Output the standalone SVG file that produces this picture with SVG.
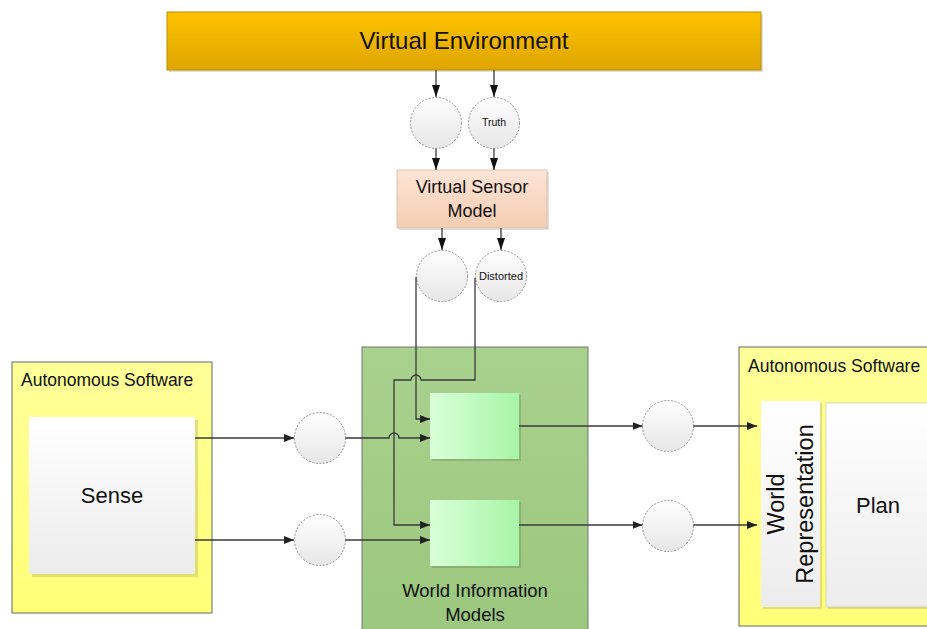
<svg xmlns="http://www.w3.org/2000/svg" width="927" height="629" viewBox="0 0 927 629">
<style>
text{font-family:"Liberation Sans",Arial,sans-serif;fill:#111}
.conn{fill:none;stroke:#3a3a3a;stroke-width:1.3}
.circ{fill:url(#gCirc);stroke:#888;stroke-width:0.9;stroke-dasharray:2 1.5}
.shadow{fill:#000;opacity:0.12}
</style>
<defs>
<linearGradient id="gVE" x1="0" y1="0" x2="0" y2="1"><stop offset="0" stop-color="#FFC300"/><stop offset="1" stop-color="#DDA600"/></linearGradient>
<linearGradient id="gVSM" x1="0" y1="0" x2="0" y2="1"><stop offset="0" stop-color="#FCE4D6"/><stop offset="1" stop-color="#F4CDB2"/></linearGradient>
<linearGradient id="gCirc" x1="0" y1="0" x2="0" y2="1"><stop offset="0" stop-color="#FFFFFF"/><stop offset="1" stop-color="#E6E6E6"/></linearGradient>
<linearGradient id="gGreen" x1="0" y1="0" x2="0" y2="1"><stop offset="0" stop-color="#A9D18E"/><stop offset="1" stop-color="#9CC77E"/></linearGradient>
<linearGradient id="gInner" x1="0" y1="0" x2="1" y2="0"><stop offset="0" stop-color="#D9FFD9"/><stop offset="1" stop-color="#A6F5A6"/></linearGradient>
<linearGradient id="gWhite" x1="0" y1="0" x2="0" y2="1"><stop offset="0" stop-color="#FFFFFF"/><stop offset="1" stop-color="#ECECEC"/></linearGradient>
<linearGradient id="gYellow" x1="0" y1="0" x2="0" y2="1"><stop offset="0" stop-color="#FFFF99"/><stop offset="1" stop-color="#FFFF77"/></linearGradient>
<marker id="arr" markerWidth="10" markerHeight="8" refX="10" refY="4" orient="auto" markerUnits="userSpaceOnUse"><path d="M0,0 L10,4 L0,8 Z" fill="#222"/></marker>
<marker id="arrD" markerWidth="8" markerHeight="12" refX="4" refY="12" orient="0" markerUnits="userSpaceOnUse"><path d="M0,0 L8,0 L4,12 Z" fill="#111"/></marker>
</defs>

<g id="virtual-environment">
<rect x="169" y="14" width="594" height="58" class="shadow"/>
<rect x="167" y="12" width="594" height="58" fill="url(#gVE)" stroke="#B8900A" stroke-width="1"/>
<text x="464" y="49" font-size="24" text-anchor="middle">Virtual Environment</text>
</g>

<g id="circle-ve-left"><circle cx="436" cy="123" r="25.5" class="circ"/></g>
<g id="circle-truth"><circle cx="494" cy="123" r="25.5" class="circ"/><text x="494" y="126" font-size="10.5" text-anchor="middle">Truth</text></g>

<g id="virtual-sensor-model">
<rect x="399" y="172" width="150" height="58" class="shadow"/>
<rect x="397" y="170" width="150" height="58" fill="url(#gVSM)" stroke="#D9B8A0" stroke-width="0.8"/>
<text x="472" y="193" font-size="18" text-anchor="middle">Virtual Sensor</text>
<text x="472" y="217" font-size="18" text-anchor="middle">Model</text>
</g>

<g id="circle-vsm-left"><circle cx="442" cy="276" r="25.5" class="circ"/></g>
<g id="circle-distorted"><circle cx="501" cy="276" r="25.5" class="circ"/><text x="501" y="280" font-size="11" text-anchor="middle">Distorted</text></g>

<g id="autonomous-software-left">
<rect x="12" y="362" width="200" height="251" fill="url(#gYellow)" stroke="#666" stroke-width="1"/>
<text x="21" y="386" font-size="17.5">Autonomous Software</text>
</g>
<g id="sense">
<rect x="32" y="420" width="166" height="157" class="shadow"/>
<rect x="29" y="417" width="166" height="157" fill="url(#gWhite)"/>
<text x="112" y="503" font-size="22" text-anchor="middle">Sense</text>
</g>

<g id="circle-left-1"><circle cx="320" cy="438" r="25.5" class="circ"/></g>
<g id="circle-left-2"><circle cx="320" cy="540" r="25.5" class="circ"/></g>

<g id="world-information-models">
<rect x="362" y="347" width="226" height="290" fill="url(#gGreen)" stroke="#777" stroke-width="1"/>
<text x="475" y="597" font-size="18.5" text-anchor="middle">World Information</text>
<text x="475" y="621" font-size="18.5" text-anchor="middle">Models</text>
</g>
<g id="model-upper">
<rect x="432" y="395" width="89" height="66" class="shadow"/>
<rect x="430" y="393" width="89" height="66" fill="url(#gInner)"/>
</g>
<g id="model-lower">
<rect x="432" y="502" width="89" height="66" class="shadow"/>
<rect x="430" y="500" width="89" height="66" fill="url(#gInner)"/>
</g>

<g id="circle-right-1"><circle cx="668" cy="426" r="25.5" class="circ"/></g>
<g id="circle-right-2"><circle cx="668" cy="526" r="25.5" class="circ"/></g>

<g id="autonomous-software-right">
<rect x="739" y="347" width="200" height="279" fill="url(#gYellow)" stroke="#666" stroke-width="1"/>
<text x="748" y="372" font-size="17.5">Autonomous Software</text>
</g>
<g id="world-representation">
<rect x="763" y="403" width="59" height="206" class="shadow"/>
<rect x="761" y="401" width="59" height="206" fill="url(#gWhite)"/>
<text transform="translate(784,504) rotate(-90)" font-size="23.5" text-anchor="middle">World</text>
<text transform="translate(813,504) rotate(-90)" font-size="23.5" text-anchor="middle">Representation</text>
</g>
<g id="plan">
<rect x="828" y="405" width="110" height="204" class="shadow"/>
<rect x="826" y="403" width="110" height="204" fill="url(#gWhite)" stroke="#bbb" stroke-width="0.6"/>
<text x="878" y="513" font-size="22" text-anchor="middle">Plan</text>
</g>

<g id="connectors">
<path class="conn" d="M436,70 V97" stroke="#111" marker-end="url(#arrD)"/>
<path class="conn" d="M494,70 V97" stroke="#111" marker-end="url(#arrD)"/>
<path class="conn" d="M436,148.5 V170" stroke="#111" marker-end="url(#arrD)"/>
<path class="conn" d="M494,148.5 V170" stroke="#111" marker-end="url(#arrD)"/>
<path class="conn" d="M442,228 V250" stroke="#111" marker-end="url(#arrD)"/>
<path class="conn" d="M501,228 V250" stroke="#111" marker-end="url(#arrD)"/>
<path class="conn" d="M416,277 V419 H430" marker-end="url(#arr)"/>
<path class="conn" d="M475,278 V380 H421 A5,5 0 0 0 411,380 H394 V525 H430" marker-end="url(#arr)"/>
<path class="conn" d="M195,438 H294" stroke="#111" marker-end="url(#arr)"/>
<path class="conn" d="M195,540 H294" stroke="#111" marker-end="url(#arr)"/>
<path class="conn" d="M345.5,438 H389 A5,5 0 0 1 399,438 H430" marker-end="url(#arr)"/>
<path class="conn" d="M345.5,540 H430" marker-end="url(#arr)"/>
<path class="conn" d="M519,426 H642.5" marker-end="url(#arr)"/>
<path class="conn" d="M519,525 H642.5" stroke-width="1.8" marker-end="url(#arr)"/>
<path class="conn" d="M693.5,426 H757" marker-end="url(#arr)"/>
<path class="conn" d="M693.5,525 H757" marker-end="url(#arr)"/>
</g>
</svg>
